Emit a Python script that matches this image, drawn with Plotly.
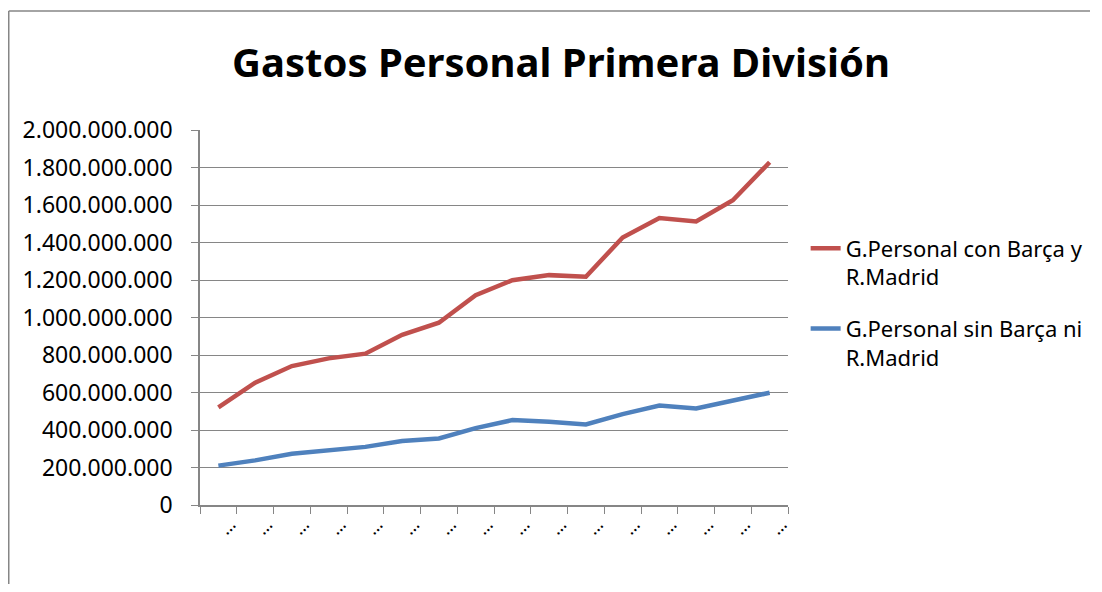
import plotly.graph_objects as go

# Temporadas (etiquetas truncadas en el original, se muestran como "…")
temporadas = [f"T{i}" for i in range(1, 17)]
etiquetas = ["…"] * 16

gasto_con = [521, 652, 741, 782, 807, 908, 972, 1119, 1199, 1226, 1217, 1427, 1530, 1512, 1625, 1828]
gasto_sin = [210, 238, 273, 290, 310, 341, 355, 410, 453, 444, 430, 485, 530, 515, 556, 599]

# a euros
gasto_con = [v * 1_000_000 for v in gasto_con]
gasto_sin = [v * 1_000_000 for v in gasto_sin]

FONT = "Noto Sans"

# la página añade 8px de margen al cuerpo: figura algo menor para evitar barras de scroll
FIG_W, FIG_H = 1086, 576
L, T, W, H = 192, 122, 588, 375

fig = go.Figure()

fig.add_trace(go.Scatter(
    x=temporadas, y=gasto_con, mode="lines",
    line=dict(color="#C0504D", width=4.5),
    name="G.Personal con Barça y<br>R.Madrid", legendgroup="con",
))
fig.add_trace(go.Scatter(
    x=temporadas, y=gasto_sin, mode="lines",
    line=dict(color="#4F81BD", width=4.5),
    name="G.Personal sin Barça ni<br>R.Madrid", legendgroup="sin",
))

# marco del área del gráfico: solo bordes izquierdo y superior quedan a la vista
x_izq = (0.75 - L) / W
x_der = (FIG_W - 4 - L) / W
y_sup = 1 + (T - 3) / H
y_inf = -(FIG_H - T - H) / H
borde = dict(color="#868686", width=1.5)
fig.add_shape(type="line", xref="paper", yref="paper",
              x0=x_izq, x1=x_izq, y0=y_inf, y1=y_sup, line=borde, layer="below")
fig.add_shape(type="line", xref="paper", yref="paper",
              x0=x_izq, x1=x_der, y0=y_sup, y1=y_sup, line=borde, layer="below")

fig.update_layout(
    width=FIG_W, height=FIG_H,
    margin=dict(l=L, r=FIG_W - L - W, t=T, b=FIG_H - T - H, autoexpand=False),
    paper_bgcolor="white", plot_bgcolor="white",
    separators=",.",
    font=dict(family=FONT, color="black", size=22),
    title=dict(
        text="<b>Gastos Personal Primera División</b>",
        x=553 / FIG_W, xanchor="center", y=1 - 55 / FIG_H, yanchor="middle",
        font=dict(family=FONT, size=40, color="black"),
    ),
    legend=dict(
        x=1.03, xanchor="left", y=0.74, yanchor="top",
        valign="top", font=dict(family=FONT, size=22),
        tracegroupgap=20, bgcolor="rgba(0,0,0,0)",
    ),
    showlegend=True,
)

fig.update_xaxes(
    type="category", tickmode="array", tickvals=temporadas, ticktext=etiquetas,
    tickangle=-45, tickson="boundaries", ticks="outside", ticklen=7,
    tickcolor="#868686", showline=True, linecolor="#868686", linewidth=1.5,
    showgrid=False, tickfont=dict(size=18), ticklabelshift=12,
    range=[-0.5, 15.5],
)
fig.update_yaxes(
    range=[0, 2_000_000_000], dtick=200_000_000, tickformat=",d",
    ticks="outside", ticklen=7, tickcolor="#868686",
    showline=True, linecolor="#868686", linewidth=1.5,
    showgrid=True, gridcolor="#868686", gridwidth=1,
    zeroline=False, ticklabelstandoff=14, tickfont=dict(size=23),
)

fig.write_html("out.html")
